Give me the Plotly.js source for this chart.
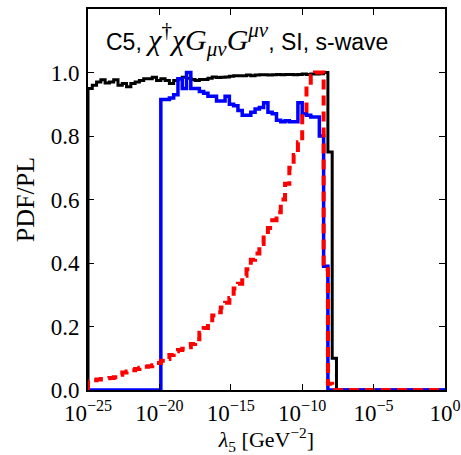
<!DOCTYPE html>
<html><head><meta charset="utf-8">
<script src="https://cdn.plot.ly/plotly-3.0.1.min.js"></script>
<style>html,body{margin:0;padding:0;background:#fff}#chart{width:461px;height:455px}</style>
</head><body><div id="chart"></div>
<script>
// histogram binning in log10(lambda5)
const binStart = -25;
const binWidth = 0.3;

const blackPDF = [
 0.95,0.96,0.97,0.977,0.967,0.97,0.977,0.96,0.965,0.955,
 0.965,0.97,0.975,0.98,0.98,0.985,0.975,0.98,0.975,0.965,
 0.975,0.98,0.985,0.982,0.978,0.975,0.978,0.978,0.982,0.986,
 0.984,0.985,0.986,0.988,0.99,0.99,0.99,0.992,0.99,0.992,
 0.993,0.993,0.992,0.993,0.994,0.993,0.994,0.994,0.993,0.994,
 0.995,0.994,0.995,0.995,0.996,1.0,0.75,0.1,0,0,
 0,0,0,0,0,0,0,0,0,0,
 0,0,0,0,0,0,0,0,0,0,
 0,0,0,0];

const bluePDF = [
 0,0,0,0,0,0,0,0,0,0,
 0,0,0,0,0,0,0,0.915,0.915,0.92,
 0.93,0.98,0.95,1.0,0.95,0.95,0.94,0.935,0.925,0.925,
 0.91,0.91,0.925,0.90,0.895,0.88,0.865,0.865,0.875,0.885,
 0.89,0.905,0.875,0.87,0.85,0.845,0.848,0.845,0.845,0.905,
 0.87,0.865,0.86,0.86,0.80,0.39,0,0,0,0,
 0,0,0,0,0,0,0,0,0,0,
 0,0,0,0,0,0,0,0,0,0,
 0,0,0,0];

const redPL = [
 0.030,0.031,0.033,0.035,0.037,0.038,0.040,0.048,0.055,0.058,
 0.062,0.066,0.070,0.073,0.075,0.078,0.085,0.092,0.098,0.110,
 0.122,0.126,0.130,0.135,0.145,0.160,0.180,0.195,0.210,0.235,
 0.245,0.260,0.275,0.290,0.320,0.335,0.360,0.380,0.410,0.430,
 0.460,0.480,0.510,0.535,0.560,0.600,0.650,0.700,0.740,0.780,
 0.880,0.960,0.990,1.0,1.0,0.38,0.02,0,0,0,
 0,0,0,0,0,0,0,0,0,0,
 0,0,0,0,0,0,0,0,0,0,
 0,0,0,0];

const xTickVals = [1e-25,1e-20,1e-15,1e-10,1e-5,1e0];
const xTickText = ['10<sup>−25</sup>','10<sup>−20</sup>','10<sup>−15</sup>','10<sup>−10</sup>','10<sup>−5</sup>','10<sup>0</sup>'];
const yTickVals = [0,0.2,0.4,0.6,0.8,1.0];
const yTickText = ['0.0','0.2','0.4','0.6','0.8','1.0'];

function stepXY(vals){
  const n = vals.length;
  const edges = [];
  for(let k=0;k<=n;k++) edges.push(Math.pow(10, binStart + binWidth*k));
  const x = [edges[0]], y = [0];
  for(let k=0;k<n;k++){ x.push(edges[k]); y.push(vals[k]); }
  x.push(edges[n]); y.push(0);
  return {x, y};
}

const b = stepXY(blackPDF), u = stepXY(bluePDF), r = stepXY(redPL);
const traces = [
  {x:b.x, y:b.y, type:'scatter', mode:'lines', line:{shape:'hv', color:'#000000', width:3}, hoverinfo:'skip'},
  {x:u.x, y:u.y, type:'scatter', mode:'lines', line:{shape:'hv', color:'#0000ff', width:3.5}, hoverinfo:'skip'},
  {x:r.x, y:r.y, type:'scatter', mode:'lines', line:{shape:'hv', color:'#ff0000', width:4, dash:'10px,6px'}, hoverinfo:'skip'}
];

const serif = 'Liberation Serif, Times New Roman, serif';
const layout = {
  width:461, height:455,
  margin:{l:88, r:16, t:9, b:65},
  paper_bgcolor:'#ffffff', plot_bgcolor:'#ffffff',
  showlegend:false,
  xaxis:{
    type:'log', range:[-25,0],
    tickvals:xTickVals, ticktext:xTickText,
    ticks:'inside', ticklen:6, tickwidth:1, tickcolor:'#000',
    showline:true, linewidth:2, linecolor:'#000', mirror:'ticks',
    showgrid:false, zeroline:false,
    ticklabeloverflow:'allow', ticklabelstandoff:1,
    tickfont:{family:serif, size:23, color:'#000'},
    title:{text:'<i>λ</i><sub>5</sub> [GeV<sup>−2</sup>]', font:{family:serif, size:22, color:'#000'}, standoff:11}
  },
  yaxis:{
    range:[0,1.2],
    tickvals:yTickVals, ticktext:yTickText,
    ticks:'inside', ticklen:6, tickwidth:1, tickcolor:'#000',
    showline:true, linewidth:2, linecolor:'#000', mirror:'ticks',
    showgrid:false, zeroline:false,
    ticklabelstandoff:2,
    tickfont:{family:serif, size:23, color:'#000'},
    title:{text:'PDF/PL', font:{family:serif, size:26, color:'#000'}, standoff:9}
  },
  annotations:[{
    xref:'paper', yref:'paper', x:0.045, y:0.92, xanchor:'left', yanchor:'middle',
    showarrow:false,
    text:'C5, <span style="font-family:Liberation Serif;font-size:30px"><i>χ</i><sup>†</sup><i>χG</i><sub><i>μν</i></sub><i>G</i><sup><i>μν</i></sup></span>, SI, s-wave',
    font:{family:'Liberation Sans, Arial, sans-serif', size:23, color:'#000'}
  }]
};

Plotly.newPlot('chart', traces, layout, {displayModeBar:false, staticPlot:true});
</script></body></html>
